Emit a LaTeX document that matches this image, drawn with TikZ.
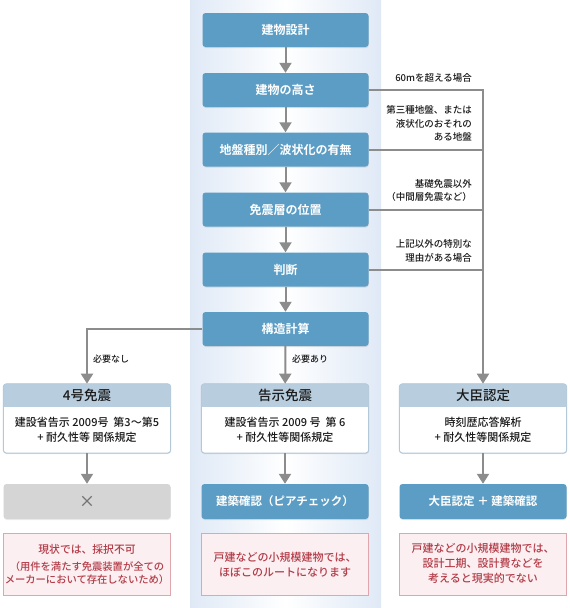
\documentclass[tikz,border=0pt]{standalone}
\usepackage{fontspec}
\IfFontExistsTF{Noto Sans CJK JP Medium}{%
  \setmainfont{Noto Sans CJK JP Medium}[BoldFont={Noto Sans CJK JP Bold}]}{%
  \setmainfont{Noto Sans CJK JP}}
\usetikzlibrary{arrows.meta,shadows}
\definecolor{boxblue}{HTML}{5B9DC4}
\definecolor{bgblue}{HTML}{DFE9F6}
\definecolor{arrgray}{HTML}{8C8C8C}
\definecolor{hdrblue}{HTML}{B8CEDF}
\definecolor{cardline}{HTML}{B3C8D9}
\definecolor{graybox}{HTML}{D5D5D5}
\definecolor{notefill}{HTML}{FCEFF1}
\definecolor{noteline}{HTML}{DFA7AD}
\definecolor{notetext}{HTML}{B23C48}
\definecolor{darktext}{HTML}{1A1A1A}
\tikzset{
  mainbox/.style={rectangle, rounded corners=3pt, fill=boxblue, text=white,
    font=\fontsize{12}{14}\selectfont\bfseries, minimum width=166pt, minimum height=34pt,
    inner sep=0pt, drop shadow={opacity=0.2, shadow xshift=0.4pt, shadow yshift=-1pt}},
  cardbox/.style={rectangle, rounded corners=3pt, fill=white, draw=cardline, line width=0.6pt,
    minimum width=167pt, minimum height=69pt, inner sep=0pt,
    drop shadow={opacity=0.15, shadow xshift=0.4pt, shadow yshift=-1pt}},
  grayrect/.style={rectangle, rounded corners=3pt, fill=graybox, text=black!55,
    font=\fontsize{16}{16}\selectfont, minimum width=167pt, minimum height=35pt, inner sep=0pt,
    drop shadow={opacity=0.15, shadow xshift=0.4pt, shadow yshift=-1pt}},
  notebox/.style={rectangle, fill=notefill, draw=noteline, line width=0.7pt,
    minimum width=167pt, minimum height=62pt, inner sep=0pt},
  notetxt/.style={text=notetext, align=center, font=\fontsize{11}{15}\selectfont, inner sep=0pt},
  hdrtxt/.style={text=darktext, font=\fontsize{13.5}{15}\selectfont, inner sep=0pt},
  bodytxt/.style={text=darktext, align=center, font=\fontsize{11}{15}\selectfont, inner sep=0pt},
  lbl/.style={text=darktext, font=\fontsize{9.5}{13.5}\selectfont, inner sep=0pt, align=right},
  brlbl/.style={text=darktext, font=\fontsize{9}{11}\selectfont, inner sep=0pt, anchor=west},
  conn/.style={draw=arrgray, line width=2pt},
  arr/.style={conn, -{Triangle[width=12pt,length=10pt]}},
}
\begin{document}
\begin{tikzpicture}[x=1pt,y=-1pt]
\useasboundingbox (0,0) rectangle (570,608);
\fill[left color=bgblue, right color=bgblue, middle color=white] (190,0) rectangle (381,608);

% main column
\node[mainbox] (b1) at (285.5,30) {建物設計};
\node[mainbox] (b2) at (285.5,90) {建物の高さ};
\node[mainbox] (b3) at (285.5,149.5) {地盤種別／波状化の有無};
\node[mainbox] (b4) at (285.5,209.5) {免震層の位置};
\node[mainbox] (b5) at (285.5,269.5) {判断};
\node[mainbox] (b6) at (285.5,329) {構造計算};

% cards
\node[cardbox] (c1) at (87,418.5) {};
\node[cardbox] (c2) at (285,418.5) {};
\node[cardbox] (c3) at (483,418.5) {};
\foreach \c in {c1,c2,c3}{
  \begin{scope}
    \clip[rounded corners=3pt] (\c.north west) rectangle (\c.south east);
    \fill[hdrblue] (\c.north west) rectangle ([yshift=-23pt]\c.north east);
  \end{scope}
  \draw[cardline, line width=0.6pt, rounded corners=3pt] (\c.north west) rectangle (\c.south east);
}
\node[hdrtxt] (h1) at (87,395.5) {4号免震};
\node[hdrtxt] (h2) at (285,395.5) {告示免震};
\node[hdrtxt] (h3) at (483,395.5) {大臣認定};
\node[bodytxt] (t1) at (87,429.5) {建設省告示 2009号\ \ 第3〜第5\\+ 耐久性等 関係規定};
\node[bodytxt] (t2) at (285,429.5) {建設省告示 2009 号\ \ 第 6\\+ 耐久性等関係規定};
\node[bodytxt] (t3) at (483,429.5) {時刻歴応答解析\\+ 耐久性等関係規定};

% result boxes
\node[grayrect] (r1) at (87,501.5) {×};
\node[mainbox, minimum width=167pt, minimum height=35pt, font=\fontsize{11.5}{14}\selectfont\bfseries] (r2) at (285,501.5) {建築確認（ピアチェック）};
\node[mainbox, minimum width=167pt, minimum height=35pt, font=\fontsize{11.5}{14}\selectfont\bfseries] (r3) at (483,501.5) {大臣認定 ＋ 建築確認};

% notes
\node[notebox] (n1) at (87,564) {};
\node[notebox] (n2) at (285,564) {};
\node[notebox] (n3) at (483,564) {};
\node[notetxt, font=\fontsize{10.3}{13}\selectfont] (m1) at (87,564) {{\fontsize{10.8}{13}\selectfont 現状では、採択不可}\\[4pt]（用件を満たす免震装置が全ての\\メーカーにおいて存在しないため）};
\node[notetxt] (m2) at (285,564.5) {戸建などの小規模建物では、\\ほぼこのルートになります};
\node[notetxt] (m3) at (483,563) {戸建などの小規模建物では、\\設計工期、設計費などを\\考えると現実的でない};

% main arrows
\draw[arr] (b1) -- (b2);
\draw[arr] (b2) -- (b3);
\draw[arr] (b3) -- (b4);
\draw[arr] (b4) -- (b5);
\draw[arr] (b5) -- (b6);
\draw[arr] (b6) -- (c2);
\draw[arr] (b6.west) -| (c1);
\draw[arr] (b2.east) -| (c3);
\coordinate (rc) at (483,90);
\draw[conn] (b3.east) -- (b3.east -| rc);
\draw[conn] (b4.east) -- (b4.east -| rc);
\draw[conn] (b5.east) -- (b5.east -| rc);
\draw[arr] (c1) -- (r1);
\draw[arr] (c2) -- (r2);
\draw[arr] (c3) -- (r3);

% labels
\node[lbl, anchor=east] (l1) at (472,78) {60mを超える場合};
\node[lbl, anchor=east] (l2) at (472,123.5) {第三種地盤、または\\液状化のおそれの\\ある地盤};
\node[lbl, anchor=east] (l3) at (472,190.5) {基礎免震以外\\（中間層免震など）};
\node[lbl, anchor=east] (l4) at (472,251) {上記以外の特別な\\理由がある場合};
\node[brlbl] (k1) at (93,359.5) {必要なし};
\node[brlbl] (k2) at (292,359) {必要あり};
\end{tikzpicture}
\end{document}
